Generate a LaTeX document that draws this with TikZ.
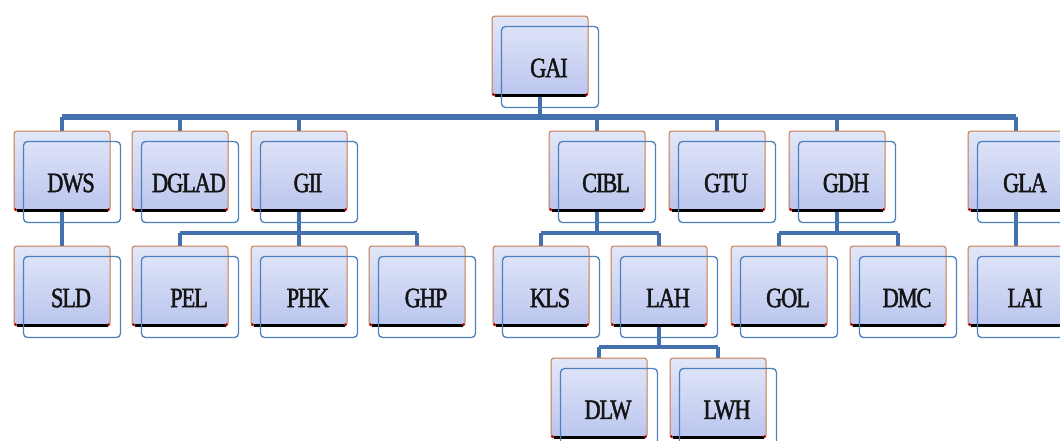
\documentclass[tikz,border=0pt]{standalone}
\usepackage{fontspec}
\newfontfamily\boxfont[FakeStretch=0.8,LetterSpace=-4,FakeBold=1.6]{Liberation Serif}
\usetikzlibrary{calc,backgrounds}
\definecolor{barblue}{HTML}{4470AE}
\definecolor{edgeblue}{HTML}{4F7FBD}
\definecolor{rimorange}{HTML}{C7794A}
\definecolor{filltop}{HTML}{E2E7F8}
\definecolor{fillbot}{HTML}{BAC5EE}
\tikzset{
  orgbox/.style={rectangle, rounded corners=3pt, minimum width=96pt, minimum height=80pt,
    inner sep=0pt, draw=rimorange, line width=1pt, top color=filltop, bottom color=fillbot},
  backedge/.style={draw=edgeblue, line width=1.3pt, rounded corners=4pt},
  baseedge/.style={draw=black, line width=3pt},
  cornerdot/.style={fill=red!75!black},
  boxlabel/.style={font=\boxfont\fontsize{28}{28}\selectfont, text=black!92, inner sep=0pt},
  conn/.style={draw=barblue, line width=4.5pt},
  mainconn/.style={draw=barblue, line width=5.5pt},
}
\newcommand\orgnode[4]{%
  \node[orgbox] (#1) at (#2,#3) {};
  \draw[baseedge] ($(#1.south west)+(3pt,1.5pt)$) -- ($(#1.south east)+(-3pt,1.5pt)$);
  \fill[cornerdot] ($(#1.south west)+(2pt,2pt)$) circle (1.5pt);
  \fill[cornerdot] ($(#1.south east)+(-2pt,2pt)$) circle (1.5pt);
  \draw[backedge] ($(#1.north west)+(10pt,-11pt)$) rectangle ($(#1.south east)+(10pt,-11pt)$);
  \node[boxlabel] (#1-t) at ($(#1.center)+(9pt,-12pt)$) {#4};
}
\begin{document}
\begin{tikzpicture}[x=1pt,y=-1pt]
\useasboundingbox (0,0) rectangle (1060,440);
% nodes
\orgnode{GAI}{540}{56}{GAI}
\orgnode{DWS}{62}{171}{DWS}
\orgnode{DGLAD}{180}{171}{DGLAD}
\orgnode{GII}{299}{171}{GII}
\orgnode{CIBL}{597}{171}{CIBL}
\orgnode{GTU}{717}{171}{GTU}
\orgnode{GDH}{837}{171}{GDH}
\orgnode{GLA}{1016}{171}{GLA}
\orgnode{SLD}{62}{286}{SLD}
\orgnode{PEL}{180}{286}{PEL}
\orgnode{PHK}{299}{286}{PHK}
\orgnode{GHP}{417}{286}{GHP}
\orgnode{KLS}{541}{286}{KLS}
\orgnode{LAH}{659}{286}{LAH}
\orgnode{GOL}{779}{286}{GOL}
\orgnode{DMC}{898}{286}{DMC}
\orgnode{LAI}{1016}{286}{LAI}
\orgnode{DLW}{599}{398}{DLW}
\orgnode{LWH}{718}{398}{LWH}
\coordinate (bar0) at (0,117);
\coordinate (bar1) at (0,233);
\coordinate (bar2) at (0,347);
\begin{scope}[on background layer]
  \fill[white] (0,0) rectangle (1060,440);
  \draw[conn] (GAI.south) -- (GAI.south |- bar0);
  \draw[mainconn] (DWS.north |- bar0) -- (GLA.north |- bar0);
  \foreach \c in {DWS,DGLAD,GII,CIBL,GTU,GDH,GLA}
    \draw[conn] (\c.north) -- (\c.north |- bar0);
  \draw[conn] (DWS.south) -- (SLD.north);
  \draw[conn] (GLA.south) -- (LAI.north);
  \draw[conn] (GII.south) -- (GII.south |- bar1);
  \draw[conn] (PEL.north |- bar1) -- (GHP.north |- bar1);
  \foreach \c in {PEL,PHK,GHP}
    \draw[conn] (\c.north) -- (\c.north |- bar1);
  \draw[conn] (CIBL.south) -- (CIBL.south |- bar1);
  \draw[conn] (KLS.north |- bar1) -- (LAH.north |- bar1);
  \foreach \c in {KLS,LAH}
    \draw[conn] (\c.north) -- (\c.north |- bar1);
  \draw[conn] (GDH.south) -- (GDH.south |- bar1);
  \draw[conn] (GOL.north |- bar1) -- (DMC.north |- bar1);
  \foreach \c in {GOL,DMC}
    \draw[conn] (\c.north) -- (\c.north |- bar1);
  \draw[conn] (LAH.south) -- (LAH.south |- bar2);
  \draw[conn] (DLW.north |- bar2) -- (LWH.north |- bar2);
  \foreach \c in {DLW,LWH}
    \draw[conn] (\c.north) -- (\c.north |- bar2);
\end{scope}
\end{tikzpicture}
\end{document}
